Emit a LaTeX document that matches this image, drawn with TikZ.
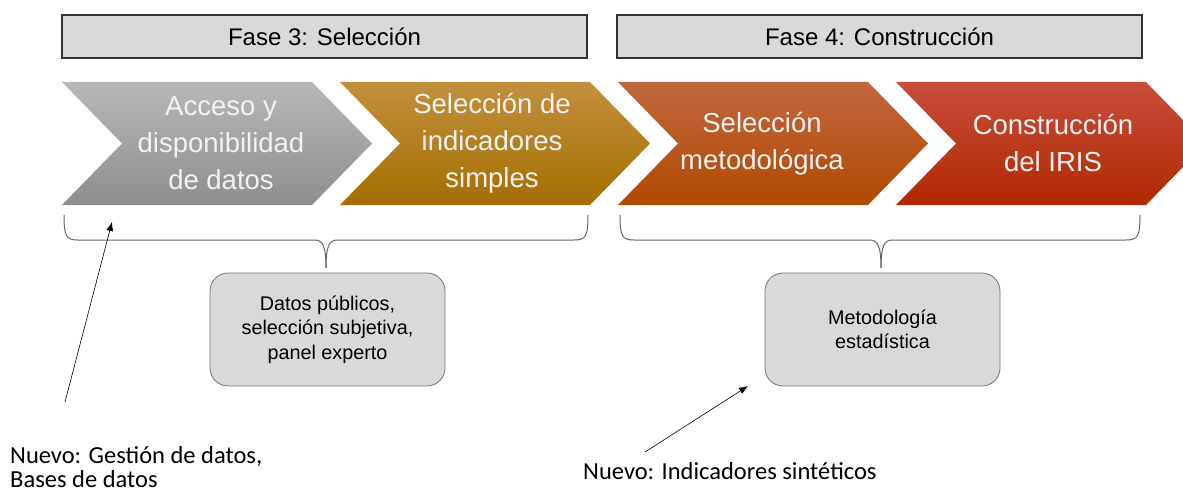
\documentclass[tikz,border=0pt]{standalone}
\usepackage{fontspec}
\setmainfont{Liberation Sans}
\newfontfamily\notefont{Carlito}
\usetikzlibrary{positioning,arrows.meta}

\definecolor{faseFill}{HTML}{D9D9D9}
\definecolor{grisA}{HTML}{B8B8B8}
\definecolor{grisB}{HTML}{8E8E8E}
\definecolor{oroA}{HTML}{C2903E}
\definecolor{oroB}{HTML}{A66E00}
\definecolor{naranjaA}{HTML}{C2663E}
\definecolor{naranjaB}{HTML}{B04A00}
\definecolor{rojoA}{HTML}{C84E3C}
\definecolor{rojoB}{HTML}{B02800}
\definecolor{textoEtapa}{HTML}{F2F2F2}

\tikzset{
  fase/.style={draw=black!80, line width=1.3pt, fill=faseFill,
    minimum width=525pt, minimum height=43pt,
    font=\fontsize{24}{28}\selectfont},
  etapa/.style={text=textoEtapa, align=center,
    font=\fontsize{27.5}{37}\selectfont},
  nota/.style={draw=black!55, line width=0.8pt, fill=faseFill,
    rounded corners=18pt, minimum width=235pt, minimum height=113pt,
    align=center, font=\fontsize{19.8}{24.5}\selectfont},
  llave/.style={draw=black!60, line width=1pt},
  nuevo/.style={align=left, inner sep=0pt,
    font=\notefont\fontsize{24.5}{24}\selectfont},
  flecha/.style={-{Latex[length=9pt,width=7pt]}, line width=0.6pt}
}

\begin{document}
\begin{tikzpicture}[x=1pt,y=-1pt]
                \useasboundingbox (0,0) rectangle (1183,492);

                % fases
                \node[fase] (F3) at (324.5,36.5) {Fase 3: Selección};
                \node[fase] (F4) at (879.5,36.5) {Fase 4: Construcción};

                % etapas
                \shade[top color=grisA, bottom color=grisB]
                (62,82) -- (312,82) -- (372,143.5) -- (312,205) -- (62,205) -- (122,143.5) -- cycle;
                \shade[top color=oroA, bottom color=oroB]
                (340,82) -- (590,82) -- (650,143.5) -- (590,205) -- (340,205) -- (400,143.5) -- cycle;
                \shade[top color=naranjaA, bottom color=naranjaB]
                (618,82) -- (868,82) -- (928,143.5) -- (868,205) -- (618,205) -- (678,143.5) -- cycle;
                \shade[top color=rojoA, bottom color=rojoB]
                (896,82) -- (1146,82) -- (1206,143.5) -- (1146,205) -- (896,205) -- (956,143.5) -- cycle;

                \node[etapa] (E1) at (221,143.5)  {Acceso y\\disponibilidad\\de datos};
                \node[etapa] (E2) at (492,143.5)  {Selección de\\indicadores\\simples};
                \node[etapa] (E3) at (762,143.5)  {Selección\\metodológica};
                \node[etapa] (E4) at (1053,143.5) {Construcción\\del IRIS};

                % llaves
                \draw[llave] (64,215) .. controls (64,236) and (66,240) .. (78,240)
                  -- (314,240) .. controls (322,240) and (326,244) .. (326,268);
                \draw[llave] (588,215) .. controls (588,236) and (586,240) .. (574,240)
                  -- (338,240) .. controls (330,240) and (326,244) .. (326,268);
                \draw[llave] (620,215) .. controls (620,236) and (622,240) .. (634,240)
                  -- (869,240) .. controls (877,240) and (881,244) .. (881,268);
                \draw[llave] (1140,215) .. controls (1140,236) and (1138,240) .. (1126,240)
                  -- (893,240) .. controls (885,240) and (881,244) .. (881,268);

                % notas
                \node[nota] (N1) at (327.5,329.5) {Datos públicos,\\selección subjetiva,\\panel experto};
                \node[nota] (N2) at (882.5,329.5) {Metodología\\estadística};

                % novedades
                \node[nuevo, anchor=north west] (G1) at (10,446) {Nuevo: Gestión de datos,\\Bases de datos};
                \node[nuevo, anchor=west] (G2) at (583,471) {Nuevo: Indicadores sintéticos};

                \coordinate (A1s) at (65,402);
                \coordinate (A1e) at (112,222);
                \coordinate (A2s) at (645,452);
                \coordinate (A2e) at (748,386);

                \draw[flecha] (A1s) -- (A1e);
                \draw[flecha] (A2s) -- (A2e);
\end{tikzpicture}
\end{document}
